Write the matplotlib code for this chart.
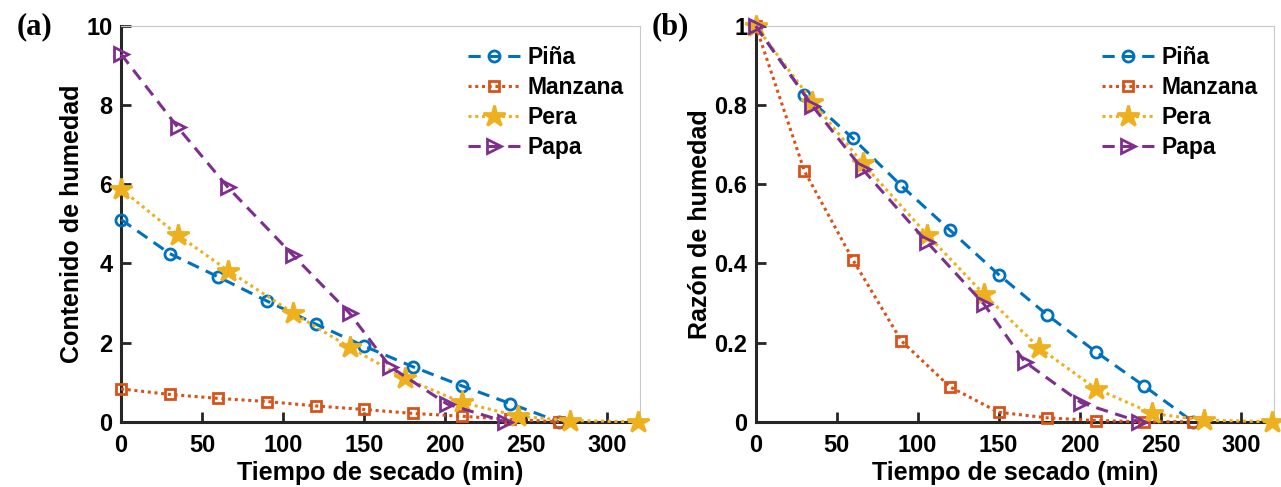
import matplotlib.pyplot as plt
import numpy as np
from matplotlib.ticker import FuncFormatter

# tiempos de secado (min)
t_pina = [0, 30, 60, 90, 120, 150, 180, 210, 240, 270]
t_manz = [0, 30, 60, 90, 120, 150, 180, 210, 240, 270]
t_pera = [0, 35, 66, 106, 141, 175, 210, 245, 277, 319]
t_papa = [0, 35, 66, 106, 141, 166, 201, 237]

# (a) contenido de humedad
cm_pina = [5.11, 4.25, 3.66, 3.05, 2.47, 1.91, 1.39, 0.91, 0.46, 0.0]
cm_manz = [0.83, 0.69, 0.59, 0.51, 0.40, 0.31, 0.21, 0.14, 0.06, 0.0]
cm_pera = [5.88, 4.72, 3.82, 2.75, 1.88, 1.10, 0.49, 0.14, 0.03, 0.0]
cm_papa = [9.29, 7.44, 5.92, 4.21, 2.74, 1.39, 0.45, 0.0]

# (b) razon de humedad
mr_pina = [1.0, 0.827, 0.716, 0.596, 0.484, 0.372, 0.270, 0.177, 0.090, 0.0]
mr_manz = [1.0, 0.634, 0.409, 0.204, 0.088, 0.024, 0.010, 0.003, 0.0, 0.0]
mr_pera = [1.0, 0.809, 0.653, 0.472, 0.322, 0.187, 0.084, 0.021, 0.004, 0.0]
mr_papa = [1.0, 0.798, 0.638, 0.453, 0.297, 0.152, 0.048, 0.0]

names = ['Piña', 'Manzana', 'Pera', 'Papa']
colors = ['#0072BD', '#D95319', '#EDB120', '#7E2F8E']

plt.rcParams['font.family'] = ['Liberation Sans', 'DejaVu Sans']
plt.rcParams['font.weight'] = 'bold'

fig = plt.figure(figsize=(12.81, 4.87), dpi=100)
ax1 = fig.add_axes([0.0945, 0.134, 0.405, 0.8125])
ax2 = fig.add_axes([0.590, 0.134, 0.4044, 0.8125])


def draw(ax, ys, ylim, yticks):
    ts = [t_pina, t_manz, t_pera, t_papa]
    # estilo de cada serie
    st = [dict(ls=(0, (4, 2.5)), marker='o', ms=8, mfc='none'),
          dict(ls=(0, (1, 1.2)), marker='s', ms=7, mfc='none'),
          dict(ls=(0, (1, 1.2)), marker='*', ms=16, mfc=colors[2]),
          dict(ls=(0, (4, 2.5)), marker='>', ms=10, mfc='none')]
    for i in range(4):
        ax.plot(ts[i], ys[i], color=colors[i], lw=2.2, mew=2, mec=colors[i],
                label=names[i], clip_on=False, zorder=5, **st[i])
    ax.set_xlim(0, 320)
    ax.set_ylim(*ylim)
    ax.set_xticks([0, 50, 100, 150, 200, 250, 300])
    ax.set_yticks(yticks)
    ax.yaxis.set_major_formatter(FuncFormatter(lambda v, p: ('%g' % v)))
    for s in ['left', 'bottom']:
        ax.spines[s].set_linewidth(2.2)
        ax.spines[s].set_color('#262626')
    for s in ['top', 'right']:
        ax.spines[s].set_linewidth(0.8)
        ax.spines[s].set_color('#c8c8c8')
    ax.tick_params(direction='in', length=7, width=2, color='#262626',
                   labelsize=17, pad=6)
    ax.tick_params(axis='x', pad=9)
    for lab in ax.get_xticklabels() + ax.get_yticklabels():
        lab.set_fontweight('bold')
    ax.set_xlabel('Tiempo de secado (min)', fontsize=18, fontweight='bold', labelpad=3)
    ax.legend(loc='upper right', bbox_to_anchor=(1.0, 0.99), frameon=False,
              fontsize=16.5, handlelength=2.3, labelspacing=0.3,
              handletextpad=0.3, borderaxespad=0.3)


draw(ax1, [cm_pina, cm_manz, cm_pera, cm_papa], (0, 10), [0, 2, 4, 6, 8, 10])
ax1.set_ylabel('Contenido de humedad', fontsize=18, fontweight='bold', labelpad=2)
draw(ax2, [mr_pina, mr_manz, mr_pera, mr_papa], (0, 1), [0, 0.2, 0.4, 0.6, 0.8, 1])
ax2.set_ylabel('Razón de humedad', fontsize=18, fontweight='bold', labelpad=2)

fig.text(0.027, 0.945, '(a)', fontsize=22, fontweight='bold',
         family='Liberation Serif', ha='center', va='center')
fig.text(0.523, 0.945, '(b)', fontsize=22, fontweight='bold',
         family='Liberation Serif', ha='center', va='center')

plt.savefig('out.png', dpi=100)
